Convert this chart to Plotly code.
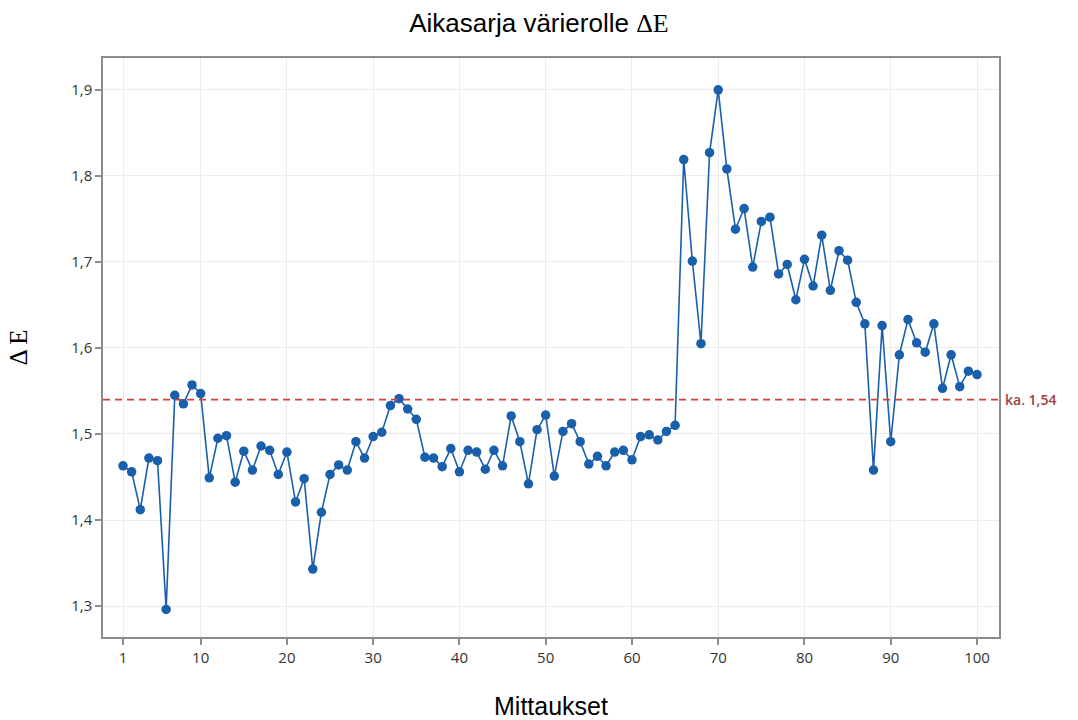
import plotly.graph_objects as go

measurements = list(range(1, 101))
delta_e = [
    1.463, 1.456, 1.412, 1.472, 1.469, 1.296, 1.545, 1.535, 1.557, 1.547,
    1.449, 1.495, 1.498, 1.444, 1.480, 1.458, 1.486, 1.481, 1.453, 1.479,
    1.421, 1.448, 1.343, 1.409, 1.453, 1.464, 1.458, 1.491, 1.472, 1.497,
    1.502, 1.533, 1.541, 1.529, 1.517, 1.473, 1.472, 1.462, 1.483, 1.456,
    1.481, 1.479, 1.459, 1.481, 1.463, 1.521, 1.491, 1.442, 1.505, 1.522,
    1.451, 1.503, 1.512, 1.491, 1.465, 1.474, 1.463, 1.479, 1.481, 1.470,
    1.497, 1.499, 1.493, 1.503, 1.510, 1.819, 1.701, 1.605, 1.827, 1.900,
    1.808, 1.738, 1.762, 1.694, 1.747, 1.752, 1.686, 1.697, 1.656, 1.703,
    1.672, 1.731, 1.667, 1.713, 1.702, 1.653, 1.628, 1.458, 1.626, 1.491,
    1.592, 1.633, 1.606, 1.595, 1.628, 1.553, 1.592, 1.555, 1.573, 1.569,
]
mean_value = 1.54
mean_label = "ka. 1,54"
x_ticks = [1, 10, 20, 30, 40, 50, 60, 70, 80, 90, 100]
y_ticks = [1.3, 1.4, 1.5, 1.6, 1.7, 1.8, 1.9]

fig = go.Figure()
fig.add_trace(go.Scatter(
    x=measurements, y=delta_e, mode="lines+markers",
    line=dict(color="#1a5fab", width=1.6),
    marker=dict(color="#1a5fab", size=9.5),
    showlegend=False,
))
fig.add_hline(y=mean_value, line=dict(color="#d0433b", width=1.8, dash="7px,5px"))
fig.add_annotation(
    x=1, xref="paper", y=mean_value, yref="y", text=mean_label,
    xanchor="left", yanchor="middle", xshift=4, showarrow=False,
    font=dict(family="Open Sans", size=14, color="#a0403c", weight=600),
)

axis_common = dict(
    showline=True, linecolor="#8c8c8c", linewidth=1.5, mirror=True,
    ticks="outside", ticklen=6, tickcolor="#8c8c8c", tickwidth=1.5,
    showgrid=True, gridcolor="#ececec", gridwidth=1, zeroline=False,
    automargin=False,
    tickfont=dict(family="Open Sans", size=15, color="#333333"),
)

fig.update_layout(
    width=1078, height=720,
    margin=dict(l=103, r=79, t=58, b=83),
    paper_bgcolor="white", plot_bgcolor="white",
    separators=", ",
    title=dict(
        text="Aikasarja värierolle <span style='font-family:Liberation Serif'>ΔE</span>",
        x=0.5, xanchor="center", y=0.968, yanchor="middle",
        font=dict(family="Liberation Sans", size=26, color="black"),
    ),
    xaxis=dict(
        range=[-1.32, 102.55], tickvals=x_ticks,
        title=dict(text="Mittaukset", standoff=32,
                   font=dict(family="Liberation Sans", size=25, color="black")),
        **axis_common,
    ),
    yaxis=dict(
        range=[1.264, 1.937], tickvals=y_ticks, tickformat=".1f",
        title=dict(text="Δ E", standoff=36,
                   font=dict(family="Liberation Serif", size=25, color="black")),
        **axis_common,
    ),
)

fig.write_html("out.html")
